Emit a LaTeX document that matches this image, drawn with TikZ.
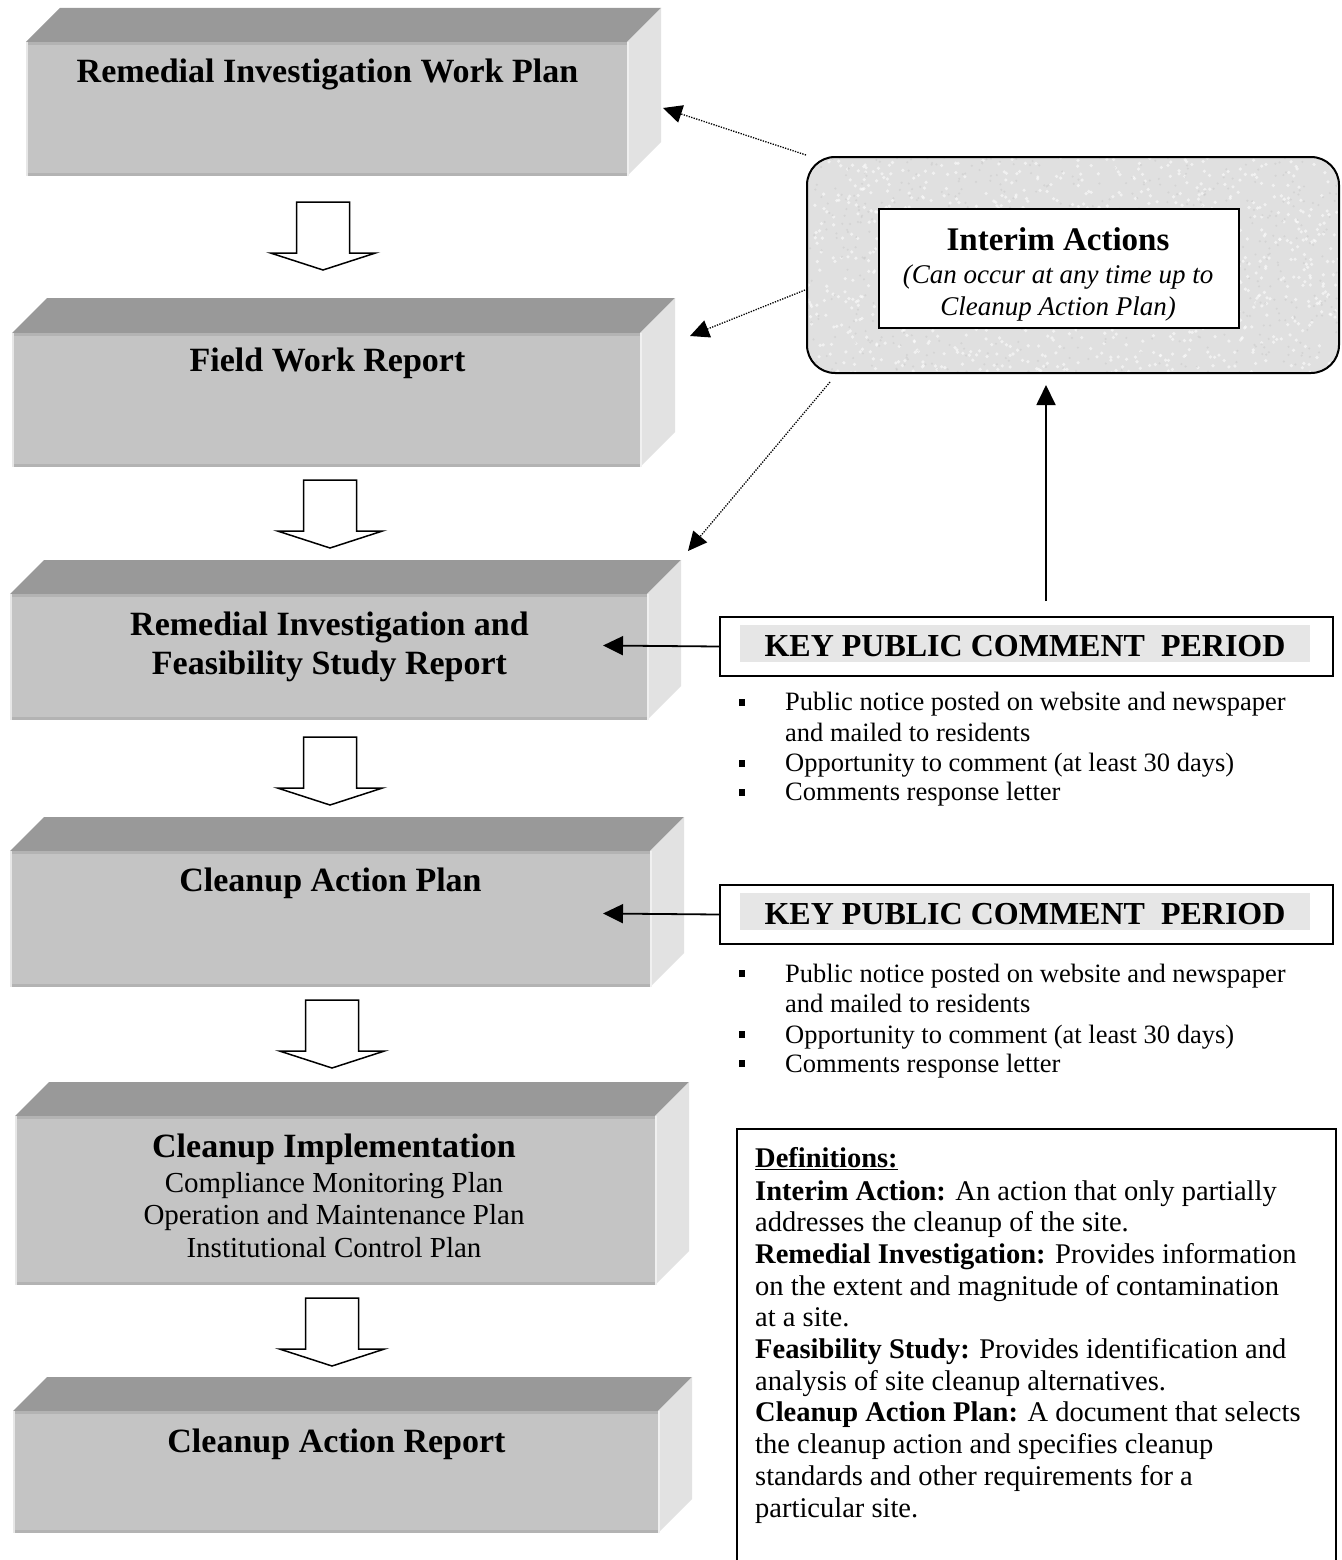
\documentclass[tikz,border=0pt]{standalone}
\usepackage{fontspec}
\setmainfont{Liberation Serif}
\usetikzlibrary{arrows.meta}
\definecolor{topgray}{HTML}{999999}
\definecolor{frontgray}{HTML}{C4C4C4}
\definecolor{sidegray}{HTML}{E2E2E2}
\definecolor{edgegray}{HTML}{B3B3B3}
\definecolor{bandgray}{HTML}{E6E6E6}
\definecolor{texgray}{HTML}{E0E0E0}
\tikzset{
  frontface/.style={fill=frontgray, inner sep=0pt, outer sep=0pt},
  ttl/.style={font=\fontsize{34}{38}\selectfont\bfseries, inner sep=0pt},
  sub/.style={font=\fontsize{29}{33}\selectfont, inner sep=0pt},
  keyfont/.style={font=\fontsize{32}{36}\selectfont\bfseries, inner sep=0pt},
  bul/.style={font=\fontsize{26.5}{30}\selectfont, inner sep=0pt, anchor=base west},
  deftxt/.style={font=\fontsize{28.5}{32}\selectfont, inner sep=0pt, anchor=base west},
  bsq/.style={fill=black, minimum width=6pt, minimum height=7pt, inner sep=0pt},
  dotarrow/.style={line width=1.3pt, dash pattern=on 1.3pt off 1.3pt, -{Triangle[length=19pt,width=18pt]}},
  solidarrow/.style={line width=1.8pt, -{Triangle[length=20pt,width=19pt]}},
  harrow/.pic={\draw[line width=1.5pt, fill=white, line join=miter]
     (-26.5,0) -- (26.5,0) -- (26.5,51) -- (52.5,51) -- (0,68) -- (-52.5,51) -- (-26.5,51) -- cycle;}
}
% name, x, y, width, height, depth
\newcommand\cubeblk[6]{%
  \node[frontface, minimum width=#4pt, minimum height=#5pt, anchor=north west] (#1) at (#2,#3) {};
  \fill[topgray] (#1.north west) -- ([shift={(#6pt,#6pt)}]#1.north west) -- ([shift={(#6pt,#6pt)}]#1.north east) -- (#1.north east) -- cycle;
  \fill[sidegray] (#1.north east) -- ([shift={(#6pt,#6pt)}]#1.north east) -- ([shift={(#6pt,#6pt)}]#1.south east) -- (#1.south east) -- cycle;
  \draw[edgegray, line width=3pt] ([yshift=-1.5pt]#1.north west) -- ([yshift=-1.5pt]#1.north east);
  \draw[edgegray, line width=3pt] ([yshift=1.5pt]#1.south west) -- ([yshift=1.5pt]#1.south east);
  \draw[white!60!frontgray, line width=2pt] ([xshift=1pt]#1.north west) -- ([xshift=1pt]#1.south west);
  \draw[white!50!sidegray, line width=2pt] ([xshift=1pt]#1.north east) -- ([xshift=1pt]#1.south east);
}
\begin{document}
\begin{tikzpicture}[x=1pt,y=-1pt]
\useasboundingbox (0,0) rectangle (1341,1560);
\fill[white] (0,0) rectangle (1341,1560);

% ---------- blocks ----------
\cubeblk{b1}{26}{42}{601}{134}{34}
\cubeblk{b2}{12}{333}{628}{134}{35}
\cubeblk{b3}{10}{594}{637}{126}{34}
\cubeblk{b4}{10}{851}{640}{136}{34}
\cubeblk{b5}{15}{1116}{640}{169}{34}
\cubeblk{b6}{13}{1411}{645}{122}{34}

\node[ttl, anchor=base] (t1) at (327.5,83) {Remedial Investigation Work Plan};
\node[ttl, anchor=base] (t2) at (327.5,371) {Field Work Report};
\node[ttl, anchor=base] (t3a) at (329.5,635) {Remedial Investigation and};
\node[ttl, anchor=base] (t3b) at (329.5,674) {Feasibility Study Report};
\node[ttl, anchor=base] (t4) at (330.5,891) {Cleanup Action Plan};
\node[ttl, anchor=base] (t5) at (334,1157) {Cleanup Implementation};
\node[sub, anchor=base] (t5a) at (334,1192) {Compliance Monitoring Plan};
\node[sub, anchor=base] (t5b) at (334,1224) {Operation and Maintenance Plan};
\node[sub, anchor=base] (t5c) at (334,1257) {Institutional Control Plan};
\node[ttl, anchor=base] (t6) at (336.5,1452) {Cleanup Action Report};

% ---------- hollow arrows ----------
\pic (h1) at (323,202) {harrow};
\pic (h2) at (330,480) {harrow};
\pic (h3) at (330,737) {harrow};
\pic (h4) at (332,1000) {harrow};
\pic (h5) at (332,1298) {harrow};

% ---------- interim actions ----------
\pgfmathsetseed{7}
\node[draw, line width=2pt, fill=texgray, rounded corners=28pt, minimum width=532pt, minimum height=216pt,
      anchor=north west, inner sep=0pt,
      path picture={
        \foreach \i in {1,...,1100}{
          \fill[white, opacity=0.55] ([shift={(rand*270pt,rand*112pt)}]path picture bounding box.center) circle (1.8pt);
        }
        \foreach \i in {1,...,700}{
          \fill[gray!55, opacity=0.3] ([shift={(rand*270pt,rand*112pt)}]path picture bounding box.center) circle (1.2pt);
        }
      }] (interim) at (806,156) {};
\node[draw, line width=1.5pt, fill=white, minimum width=360pt, minimum height=119pt, anchor=north west, inner sep=0pt] (inner) at (878,208) {};
\node[font=\fontsize{33}{36}\selectfont\bfseries, anchor=base, inner sep=0pt] (ia) at (1058,250) {Interim Actions};
\node[font=\fontsize{27}{31}\selectfont\itshape, anchor=base, inner sep=0pt] (ib) at (1058,283) {(Can occur at any time up to};
\node[font=\fontsize{27}{31}\selectfont\itshape, anchor=base, inner sep=0pt] (ic) at (1058,315) {Cleanup Action Plan)};

% dotted connectors
\coordinate (d1s) at (806,155);  \coordinate (d1e) at (663,108);
\coordinate (d2s) at (805,290);  \coordinate (d2e) at (690,336);
\coordinate (d3s) at (830,382);  \coordinate (d3e) at (688,551);
\draw[dotarrow] (d1s) -- (d1e);
\draw[dotarrow] (d2s) -- (d2e);
\draw[dotarrow] (d3s) -- (d3e);

% ---------- key public comment periods ----------
\node[draw, line width=2pt, minimum width=613pt, minimum height=59pt, anchor=north west, inner sep=0pt] (key1) at (719,616) {};
\node[fill=bandgray, minimum width=570pt, minimum height=37pt, anchor=north west, inner sep=0pt] (band1) at (740,625) {};
\node[keyfont, anchor=base] (k1) at (1025,656) {KEY PUBLIC COMMENT\hspace{0.5em}PERIOD};

\node[draw, line width=2pt, minimum width=613pt, minimum height=59pt, anchor=north west, inner sep=0pt] (key2) at (719,884) {};
\node[fill=bandgray, minimum width=570pt, minimum height=37pt, anchor=north west, inner sep=0pt] (band2) at (740,893) {};
\node[keyfont, anchor=base] (k2) at (1025,924) {KEY PUBLIC COMMENT\hspace{0.5em}PERIOD};

\coordinate (up1) at (1046,601); \coordinate (up2) at (1046,385);
\draw[solidarrow] (up1) -- (up2);
\coordinate (e3) at (603,645.5);
\coordinate (e4) at (603,913.5);
\draw[solidarrow] (key1.west) -- (e3);
\draw[solidarrow] (key2.west) -- (e4);

% bullets list 1
\node[bsq] (q1) at (742,702) {};
\node[bsq] (q2) at (742,763) {};
\node[bsq] (q3) at (742,792) {};
\node[bul] (l1) at (785,710) {Public notice posted on website and newspaper};
\node[bul] (l2) at (785,741) {and mailed to residents};
\node[bul] (l3) at (785,771) {Opportunity to comment (at least 30 days)};
\node[bul] (l4) at (785,800) {Comments response letter};

% bullets list 2
\node[bsq] (r1) at (742,973) {};
\node[bsq] (r3) at (742,1034) {};
\node[bsq] (r4) at (742,1063) {};
\node[bul] (m1) at (785,982) {Public notice posted on website and newspaper};
\node[bul] (m2) at (785,1012) {and mailed to residents};
\node[bul] (m3) at (785,1043) {Opportunity to comment (at least 30 days)};
\node[bul] (m4) at (785,1072) {Comments response letter};

% ---------- definitions ----------
\node[draw, line width=1.5pt, minimum width=599pt, minimum height=460pt, anchor=north west, inner sep=0pt] (defbox) at (736,1128) {};
\node[deftxt] (n0) at (755,1167) {\textbf{\underline{Definitions:}}};
\node[deftxt] (n1) at (755,1200) {\textbf{Interim Action:} An action that only partially};
\node[deftxt] (n2) at (755,1231.7) {addresses the cleanup of the site.};
\node[deftxt] (n3) at (755,1263.4) {\textbf{Remedial Investigation:} Provides information};
\node[deftxt] (n4) at (755,1295.1) {on the extent and magnitude of contamination};
\node[deftxt] (n5) at (755,1326.8) {at a site.};
\node[deftxt] (n6) at (755,1358.5) {\textbf{Feasibility Study:} Provides identification and};
\node[deftxt] (n7) at (755,1390.2) {analysis of site cleanup alternatives.};
\node[deftxt] (n8) at (755,1421.9) {\textbf{Cleanup Action Plan:} A document that selects};
\node[deftxt] (n9) at (755,1453.6) {the cleanup action and specifies cleanup};
\node[deftxt] (n10) at (755,1485.3) {standards and other requirements for a};
\node[deftxt] (n11) at (755,1517) {particular site.};
\end{tikzpicture}
\end{document}
